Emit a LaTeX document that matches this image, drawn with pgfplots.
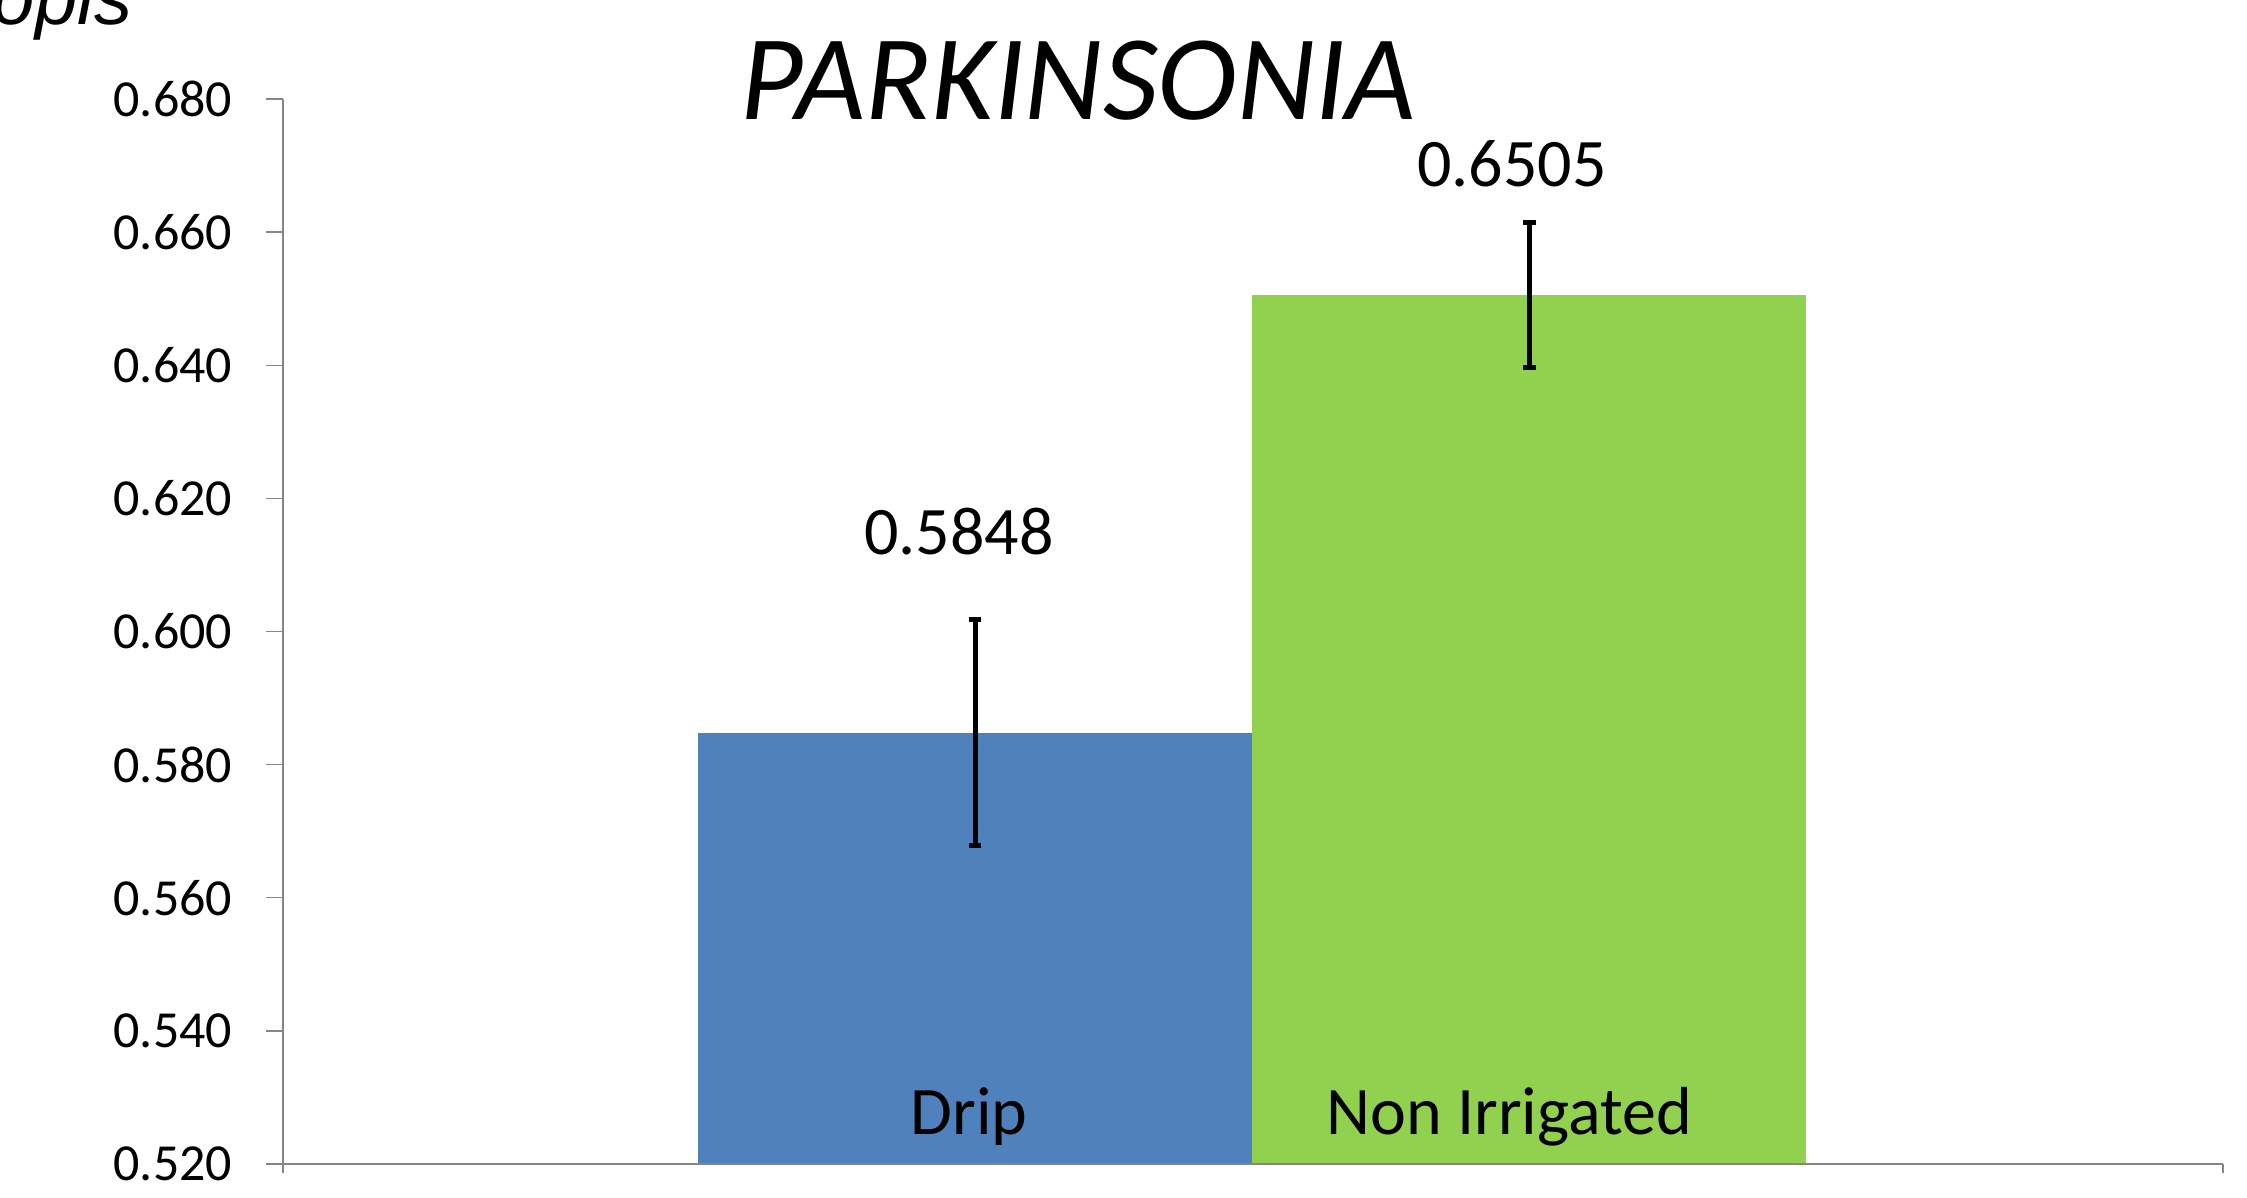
\documentclass[border=0pt]{standalone}
\usepackage{pgfplots}
\pgfplotsset{compat=1.18}
\usepackage{fontspec}
\setmainfont{Carlito}
\newfontfamily\arialfont{Liberation Sans}
\definecolor{dripblue}{HTML}{4F81BD}
\definecolor{nongreen}{HTML}{92D050}
\definecolor{axisgray}{HTML}{868686}
\begin{document}
\begin{tikzpicture}
\useasboundingbox (0,0) rectangle (561.75pt,299.5pt);
% cut-off text at top left
\node[anchor=base east, inner sep=0pt, font=\arialfont\itshape\fontsize{19}{23}\selectfont] at (33.25pt,293.25pt) {Prosopis};
% title
\node[anchor=base, inner sep=0pt, font=\itshape\fontsize{30.3}{36}\selectfont] at (269.5pt,269.5pt) {PARKINSONIA};
\begin{axis}[
  at={(70.75pt,8.5pt)}, anchor=south west,
  scale only axis, width=485pt, height=266.25pt,
  xmin=0, xmax=2, ymin=0.52, ymax=0.68,
  axis x line=bottom, axis y line=left,
  axis line style={-, draw=axisgray, line width=0.35pt},
  tick align=outside,
  ytick={0.52,0.54,0.56,0.58,0.60,0.62,0.64,0.66,0.68},
  ytick style={draw=axisgray, line width=0.35pt, /pgfplots/major tick length=4.25pt},
  xtick={0,2}, xticklabels={},
  xtick style={draw=axisgray, line width=0.35pt, /pgfplots/major tick length=2.25pt},
  extra x ticks={1}, extra x tick labels={1},
  extra x tick style={xtick style={draw=none}, xticklabel style={anchor=north, inner sep=0pt, yshift=-6.5pt}},
  /pgf/number format/assume math mode=true,
  yticklabel style={/pgf/number format/.cd, fixed, fixed zerofill, precision=3, /tikz/.cd, anchor=east, inner sep=0pt, font=\fontsize{13}{16}\selectfont},
  xticklabel style={font=\fontsize{13}{16}\selectfont},
  yticklabel shift=8.25pt,
  clip=true,
  axis on top,
]
\addplot[ybar, bar width=0.5711, bar shift=0pt, fill=dripblue, draw=none,
  error bars/.cd, y dir=both, y explicit, error mark=-,
  error bar style={draw=black, line width=1.25pt},
  error mark options={rotate=90, draw=black, line width=1.25pt, mark size=1.6pt}]
  coordinates {(0.7134,0.5848) +- (0,0.0170)};
\addplot[ybar, bar width=0.5711, bar shift=0pt, fill=nongreen, draw=none,
  error bars/.cd, y dir=both, y explicit, error mark=-,
  error bar style={draw=black, line width=1.25pt},
  error mark options={rotate=90, draw=black, line width=1.25pt, mark size=1.6pt}]
  coordinates {(1.2850,0.6505) +- (0,0.0109)};
\node[anchor=base, inner sep=0pt, font=\fontsize{17}{20}\selectfont] at (axis cs:0.697,0.6116) {0.5848};
\node[anchor=base, inner sep=0pt, font=\fontsize{17}{20}\selectfont] at (axis cs:1.267,0.6668) {0.6505};
\node[anchor=base, inner sep=0pt, font=\fontsize{17}{20}\selectfont] at (axis cs:0.7072,0.52436) {Drip};
\node[anchor=base, inner sep=0pt, font=\fontsize{17}{20}\selectfont] at (axis cs:1.2639,0.52436) {Non Irrigated};
\end{axis}
\end{tikzpicture}
\end{document}
